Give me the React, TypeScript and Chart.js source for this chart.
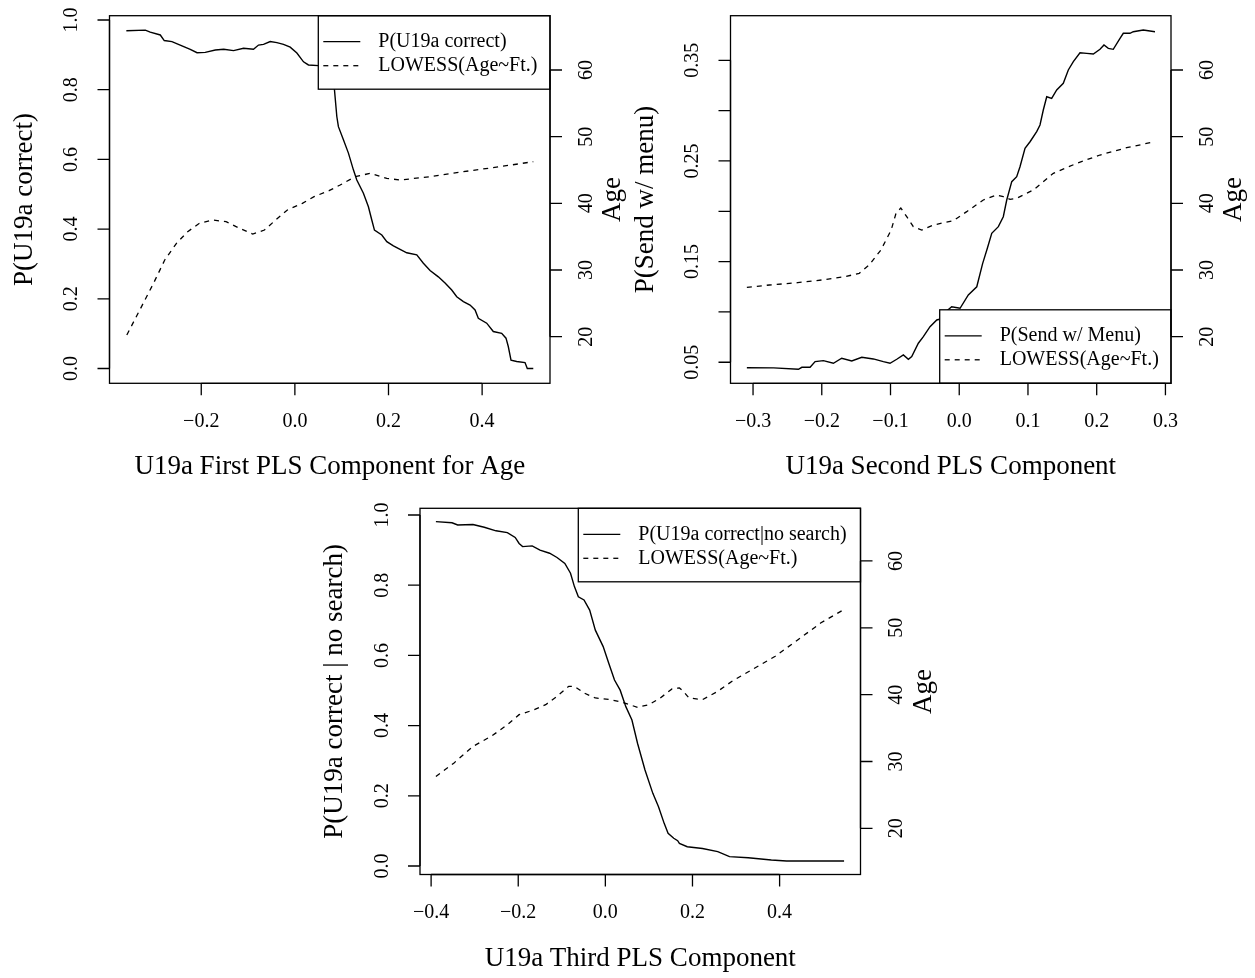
import React, { useEffect, useRef } from "react";
import { Chart, registerables } from "chart.js";

Chart.register(...registerables);

const W = 1255;
const H = 978;
const FONT = '"Liberation Serif", "Times New Roman", Times, serif';
const MINUS = "\u2212";

// ---------- Panel 1: First PLS component ----------
const p1ProbX = [
  -0.36, -0.3195, -0.309, -0.2875, -0.279, -0.2626, -0.245, -0.2235, -0.209, -0.1915,
  -0.17, -0.152, -0.131, -0.1097, -0.0884, -0.0777, -0.067, -0.0527, -0.0384, -0.0243,
  -0.01, 0.0043, 0.0184, 0.029, 0.0504, 0.072, 0.0845, 0.0896, 0.093, 0.1037,
  0.1144, 0.125, 0.1323, 0.1464, 0.1571, 0.1643, 0.17, 0.1857, 0.1964, 0.2105,
  0.2248, 0.239, 0.2604, 0.2745, 0.2888, 0.3065, 0.3208, 0.3351, 0.3458, 0.36,
  0.3742, 0.3849, 0.3919, 0.4098, 0.4239, 0.4418, 0.451, 0.4559, 0.4617, 0.4739,
  0.4916, 0.4965, 0.5093,
];
const p1Prob = [
  0.969, 0.971, 0.965, 0.957, 0.941, 0.938, 0.928, 0.916, 0.906, 0.907,
  0.914, 0.916, 0.912, 0.919, 0.916, 0.928, 0.93, 0.938, 0.935, 0.93,
  0.922, 0.905, 0.88, 0.871, 0.869, 0.855, 0.801, 0.723, 0.694, 0.656,
  0.618, 0.57, 0.541, 0.503, 0.464, 0.426, 0.397, 0.383, 0.364, 0.352,
  0.342, 0.332, 0.326, 0.302, 0.281, 0.263, 0.245, 0.225, 0.206, 0.192,
  0.182, 0.168, 0.144, 0.13, 0.106, 0.101, 0.087, 0.063, 0.024, 0.02,
  0.017, 0.0, 0.0,
];
const p1LowX = [
  -0.359, -0.335, -0.302, -0.278, -0.253, -0.229, -0.204, -0.176, -0.147, -0.118,
  -0.09, -0.065, -0.041, -0.016, 0.016, 0.041, 0.073, 0.0967, 0.1287, 0.1607,
  0.1964, 0.2248, 0.2888, 0.36, 0.4382, 0.5093,
];
const p1Low = [
  20.25, 23.5, 28, 31.5, 34, 35.75, 37, 37.5, 37.25, 36.25,
  35.4, 36, 37.5, 39, 40, 41, 41.9, 42.75, 44, 44.5,
  43.75, 43.5, 44, 44.75, 45.5, 46.25,
];
const p1XTicks = [-0.2, 0, 0.2, 0.4];
const p1YTicks = [0, 0.2, 0.4, 0.6, 0.8, 1.0];

// ---------- Panel 2: Second PLS component ----------
const p2ProbX = [
  -0.309, -0.27, -0.234, -0.229, -0.217, -0.2097, -0.1977, -0.1831, -0.171, -0.1564,
  -0.1418, -0.125, -0.1104, -0.1007, -0.0909, -0.0813, -0.074, -0.0691, -0.0595, -0.0522,
  -0.0425, -0.0327, -0.029, -0.02, -0.011, 0.0012, 0.0132, 0.0255, 0.034, 0.0409,
  0.0473, 0.0569, 0.0641, 0.0691, 0.0764, 0.0836, 0.0884, 0.0957, 0.103, 0.1127,
  0.1175, 0.1223, 0.1273, 0.1345, 0.1418, 0.1514, 0.1587, 0.166, 0.1757, 0.1855,
  0.1951, 0.2048, 0.2106, 0.2169, 0.2241, 0.2339, 0.2387, 0.2484, 0.2532, 0.2678,
  0.2848,
];
const p2Prob = [
  0.0446, 0.0444, 0.043, 0.045, 0.045, 0.0506, 0.0516, 0.049, 0.054, 0.0513,
  0.055, 0.0533, 0.0506, 0.049, 0.053, 0.0573, 0.053, 0.0556, 0.0689, 0.0754,
  0.0854, 0.092, 0.0927, 0.1, 0.1052, 0.1036, 0.1169, 0.125, 0.148, 0.1632,
  0.1781, 0.1847, 0.1946, 0.2112, 0.2294, 0.2344, 0.2443, 0.2626, 0.2691, 0.2791,
  0.2857, 0.3006, 0.3138, 0.3122, 0.3205, 0.3271, 0.3404, 0.3486, 0.3575, 0.3569,
  0.3562, 0.3609, 0.3652, 0.3619, 0.3609, 0.3718, 0.3768, 0.3768, 0.3784, 0.3801,
  0.3784,
];
const p2LowX = [
  -0.309, -0.276, -0.235, -0.2, -0.166, -0.1455, -0.131, -0.114, -0.099, -0.092,
  -0.085, -0.0764, -0.0668, -0.0545, -0.0377, -0.0086, 0.0109, 0.035, 0.0545, 0.0641,
  0.0739, 0.0836, 0.1078, 0.1369, 0.1709, 0.2048, 0.2436, 0.2848,
];
const p2Low = [
  27.4, 27.75, 28.1, 28.5, 29, 29.5, 30.75, 33, 36, 38.5,
  39.3, 38, 36.5, 36, 36.75, 37.4, 38.75, 40.5, 41.25, 41,
  40.6, 40.75, 42, 44.5, 46, 47.25, 48.35, 49.25,
];
const p2XTicks = [-0.3, -0.2, -0.1, 0, 0.1, 0.2, 0.3];
const p2YTicks = [0.05, 0.1, 0.15, 0.2, 0.25, 0.3, 0.35];
const p2YLabelTicks = [0.05, 0.15, 0.25, 0.35];

// ---------- Panel 3: Third PLS component ----------
const p3ProbX = [
  -0.389, -0.352, -0.339, -0.304, -0.278, -0.251, -0.225, -0.207, -0.198, -0.19,
  -0.168, -0.15, -0.128, -0.111, -0.093, -0.08, -0.071, -0.062, -0.049, -0.036,
  -0.023, -0.005, 0.008, 0.021, 0.034, 0.047, 0.061, 0.074, 0.091, 0.109,
  0.122, 0.135, 0.144, 0.157, 0.166, 0.17, 0.188, 0.223, 0.258, 0.285,
  0.328, 0.381, 0.416, 0.487, 0.548,
];
const p3Prob = [
  0.981, 0.978, 0.9715, 0.973, 0.965, 0.955, 0.95, 0.936, 0.919, 0.91,
  0.912, 0.9, 0.891, 0.879, 0.862, 0.834, 0.796, 0.767, 0.758, 0.729,
  0.672, 0.625, 0.577, 0.53, 0.501, 0.454, 0.416, 0.349, 0.2735, 0.207,
  0.169, 0.1215, 0.093, 0.079, 0.072, 0.0646, 0.055, 0.05, 0.041, 0.0266,
  0.0237, 0.017, 0.0142, 0.0142, 0.0142,
];
const p3LowX = [
  -0.389, -0.348, -0.304, -0.26, -0.225, -0.198, -0.163, -0.137, -0.111, -0.084,
  -0.071, -0.049, -0.023, 0.012, 0.039, 0.074, 0.1, 0.126, 0.153, 0.17,
  0.179, 0.192, 0.223, 0.258, 0.293, 0.337, 0.39, 0.443, 0.495, 0.548,
];
const p3Low = [
  27.75, 29.75, 32.25, 33.85, 35.5, 37, 37.75, 38.5, 39.75, 41.25,
  41.25, 40.25, 39.5, 39.25, 38.85, 38.1, 38.5, 39.5, 40.85, 41,
  40.5, 39.5, 39.25, 40.5, 42.1, 43.75, 45.75, 48.25, 50.75, 52.75,
];
const p3XTicks = [-0.4, -0.2, 0, 0.2, 0.4];
const p3YTicks = [0, 0.2, 0.4, 0.6, 0.8, 1.0];

const ageTicks = [20, 30, 40, 50, 60];
const lowessLabel = "LOWESS(Age~Ft.)";

type Panel = {
  box: { l: number; r: number; t: number; b: number };
  xRange: [number, number];
  yRange: [number, number];
  ageRange: [number, number];
  xTicks: number[];
  xDigits: number;
  yTicks: number[];
  yLabelTicks: number[];
  yDigits: number;
  xTitle: string;
  yTitle: string;
  legendLabel: string;
  legendWidth: number;
  legendBottom: boolean;
  solidX: number[];
  solidY: number[];
  dashX: number[];
  dashY: number[];
};

const panels: Panel[] = [
  {
    box: { l: 109.5, r: 550, t: 15.7, b: 383.3 },
    xRange: [-0.396, 0.545],
    yRange: [-0.0425, 1.0123],
    ageRange: [13.0, 68.15],
    xTicks: p1XTicks,
    xDigits: 1,
    yTicks: p1YTicks,
    yLabelTicks: p1YTicks,
    yDigits: 1,
    xTitle: "U19a First PLS Component for Age",
    yTitle: "P(U19a correct)",
    legendLabel: "P(U19a correct)",
    legendWidth: 231.7,
    legendBottom: false,
    solidX: p1ProbX,
    solidY: p1Prob,
    dashX: p1LowX,
    dashY: p1Low,
  },
  {
    box: { l: 730.5, r: 1171, t: 15.7, b: 383.3 },
    xRange: [-0.3328, 0.3081],
    yRange: [0.0291, 0.3943],
    ageRange: [13.0, 68.15],
    xTicks: p2XTicks,
    xDigits: 1,
    yTicks: p2YTicks,
    yLabelTicks: p2YLabelTicks,
    yDigits: 2,
    xTitle: "U19a Second PLS Component",
    yTitle: "P(Send w/ menu)",
    legendLabel: "P(Send w/ Menu)",
    legendWidth: 231.3,
    legendBottom: true,
    solidX: p2ProbX,
    solidY: p2Prob,
    dashX: p2LowX,
    dashY: p2Low,
  },
  {
    box: { l: 420, r: 860.5, t: 508.3, b: 874.5 },
    xRange: [-0.4255, 0.5857],
    yRange: [-0.0242, 1.0191],
    ageRange: [13.09, 67.88],
    xTicks: p3XTicks,
    xDigits: 1,
    yTicks: p3YTicks,
    yLabelTicks: p3YTicks,
    yDigits: 1,
    xTitle: "U19a Third PLS Component",
    yTitle: "P(U19a correct | no search)",
    legendLabel: "P(U19a correct|no search)",
    legendWidth: 282.2,
    legendBottom: false,
    solidX: p3ProbX,
    solidY: p3Prob,
    dashX: p3LowX,
    dashY: p3Low,
  },
];

function fmt(v: number, digits: number): string {
  const s = Math.abs(v).toFixed(digits);
  return v < -1e-9 ? MINUS + s : s;
}

const TICK_LEN = 12;
const LINE_W = 1.4;
const DASH = [5, 5];

function rotatedText(ctx: CanvasRenderingContext2D, text: string, x: number, y: number) {
  ctx.save();
  ctx.translate(x, y);
  ctx.rotate(-Math.PI / 2);
  ctx.textAlign = "center";
  ctx.textBaseline = "middle";
  ctx.fillText(text, 0, 0);
  ctx.restore();
}

function makePlugin(p: Panel) {
  return {
    id: "rStyle",
    afterDatasetsDraw(chart: any) {
      const ctx: CanvasRenderingContext2D = chart.ctx;
      const xs = chart.scales.x;
      const ys = chart.scales.y;
      const as = chart.scales.age;
      const { left, right, top, bottom } = chart.chartArea;
      ctx.save();
      ctx.fillStyle = "#000";
      ctx.strokeStyle = "#000";
      ctx.lineWidth = 1.3;

      // legend
      const lh = 73.5;
      const lx = right - p.legendWidth;
      const ly = p.legendBottom ? bottom - lh : top;
      ctx.fillStyle = "#fff";
      ctx.fillRect(lx, ly, p.legendWidth, lh);
      ctx.fillStyle = "#000";
      ctx.strokeRect(lx, ly, p.legendWidth, lh);
      const rows = [ly + 26, ly + 50];
      ctx.beginPath();
      ctx.moveTo(lx + 5, rows[0]);
      ctx.lineTo(lx + 42, rows[0]);
      ctx.stroke();
      ctx.save();
      ctx.setLineDash(DASH);
      ctx.beginPath();
      ctx.moveTo(lx + 5, rows[1]);
      ctx.lineTo(lx + 42, rows[1]);
      ctx.stroke();
      ctx.restore();
      ctx.font = `20px ${FONT}`;
      ctx.textAlign = "left";
      ctx.textBaseline = "middle";
      ctx.fillText(p.legendLabel, lx + 60, rows[0]);
      ctx.fillText(lowessLabel, lx + 60, rows[1]);

      // plot box
      ctx.strokeRect(left, top, right - left, bottom - top);

      // bottom axis
      ctx.beginPath();
      const xp = p.xTicks.map((v) => xs.getPixelForValue(v));
      ctx.moveTo(xp[0], bottom);
      ctx.lineTo(xp[xp.length - 1], bottom);
      xp.forEach((px) => {
        ctx.moveTo(px, bottom);
        ctx.lineTo(px, bottom + TICK_LEN);
      });
      ctx.stroke();
      ctx.font = `20px ${FONT}`;
      ctx.textAlign = "center";
      ctx.textBaseline = "middle";
      p.xTicks.forEach((v, i) => ctx.fillText(fmt(v, p.xDigits), xp[i], bottom + 38.4));

      // left axis
      const yp = p.yTicks.map((v) => ys.getPixelForValue(v));
      ctx.beginPath();
      ctx.moveTo(left, yp[0]);
      ctx.lineTo(left, yp[yp.length - 1]);
      yp.forEach((py) => {
        ctx.moveTo(left, py);
        ctx.lineTo(left - TICK_LEN, py);
      });
      ctx.stroke();
      p.yLabelTicks.forEach((v) => rotatedText(ctx, fmt(v, p.yDigits), left - 37.5, ys.getPixelForValue(v)));

      // right axis (Age)
      const ap = ageTicks.map((v) => as.getPixelForValue(v));
      ctx.beginPath();
      ctx.moveTo(right, ap[0]);
      ctx.lineTo(right, ap[ap.length - 1]);
      ap.forEach((py) => {
        ctx.moveTo(right, py);
        ctx.lineTo(right + TICK_LEN, py);
      });
      ctx.stroke();
      ageTicks.forEach((v, i) => rotatedText(ctx, String(v), right + 36.5, ap[i]));

      // titles
      const cx = (left + right) / 2;
      const cy = (top + bottom) / 2;
      ctx.font = `27px ${FONT}`;
      ctx.textAlign = "center";
      ctx.textBaseline = "middle";
      ctx.fillText(p.xTitle, cx, bottom + 84);
      rotatedText(ctx, p.yTitle, left - 85, cy);
      rotatedText(ctx, "Age", right + 63, cy);

      ctx.restore();
    },
  };
}

function PanelChart({ panel }: { panel: Panel }) {
  const ref = useRef<HTMLCanvasElement | null>(null);
  useEffect(() => {
    if (!ref.current) return;
    const p = panel;
    const chart = new Chart(ref.current, {
      type: "line",
      data: {
        datasets: [
          {
            data: p.solidX.map((x, i) => ({ x, y: p.solidY[i] })),
            borderColor: "#000",
            borderWidth: LINE_W,
            pointRadius: 0,
            tension: 0,
            fill: false,
            xAxisID: "x",
            yAxisID: "y",
          },
          {
            data: p.dashX.map((x, i) => ({ x, y: p.dashY[i] })),
            borderColor: "#000",
            borderWidth: 1.3,
            borderDash: DASH,
            pointRadius: 0,
            tension: 0,
            fill: false,
            xAxisID: "x",
            yAxisID: "age",
          },
        ],
      },
      options: {
        animation: false,
        responsive: false,
        events: [],
        layout: {
          padding: {
            left: p.box.l,
            top: p.box.t,
            right: W - p.box.r,
            bottom: H - p.box.b,
          },
        },
        plugins: {
          legend: { display: false },
          tooltip: { enabled: false },
        },
        scales: {
          x: { type: "linear", display: false, min: p.xRange[0], max: p.xRange[1] },
          y: { type: "linear", display: false, min: p.yRange[0], max: p.yRange[1] },
          age: { type: "linear", display: false, position: "right", min: p.ageRange[0], max: p.ageRange[1] },
        },
      },
      plugins: [makePlugin(p)],
    } as any);
    return () => chart.destroy();
  }, [panel]);
  return (
    <canvas
      ref={ref}
      width={W}
      height={H}
      style={{ position: "absolute", left: 0, top: 0, width: W, height: H }}
    />
  );
}

export default function App() {
  return (
    <div
      style={{
        position: "absolute",
        left: 0,
        top: 0,
        width: W,
        height: H,
        background: "#fff",
        overflow: "hidden",
      }}
    >
      {panels.map((p, i) => (
        <PanelChart key={i} panel={p} />
      ))}
    </div>
  );
}
